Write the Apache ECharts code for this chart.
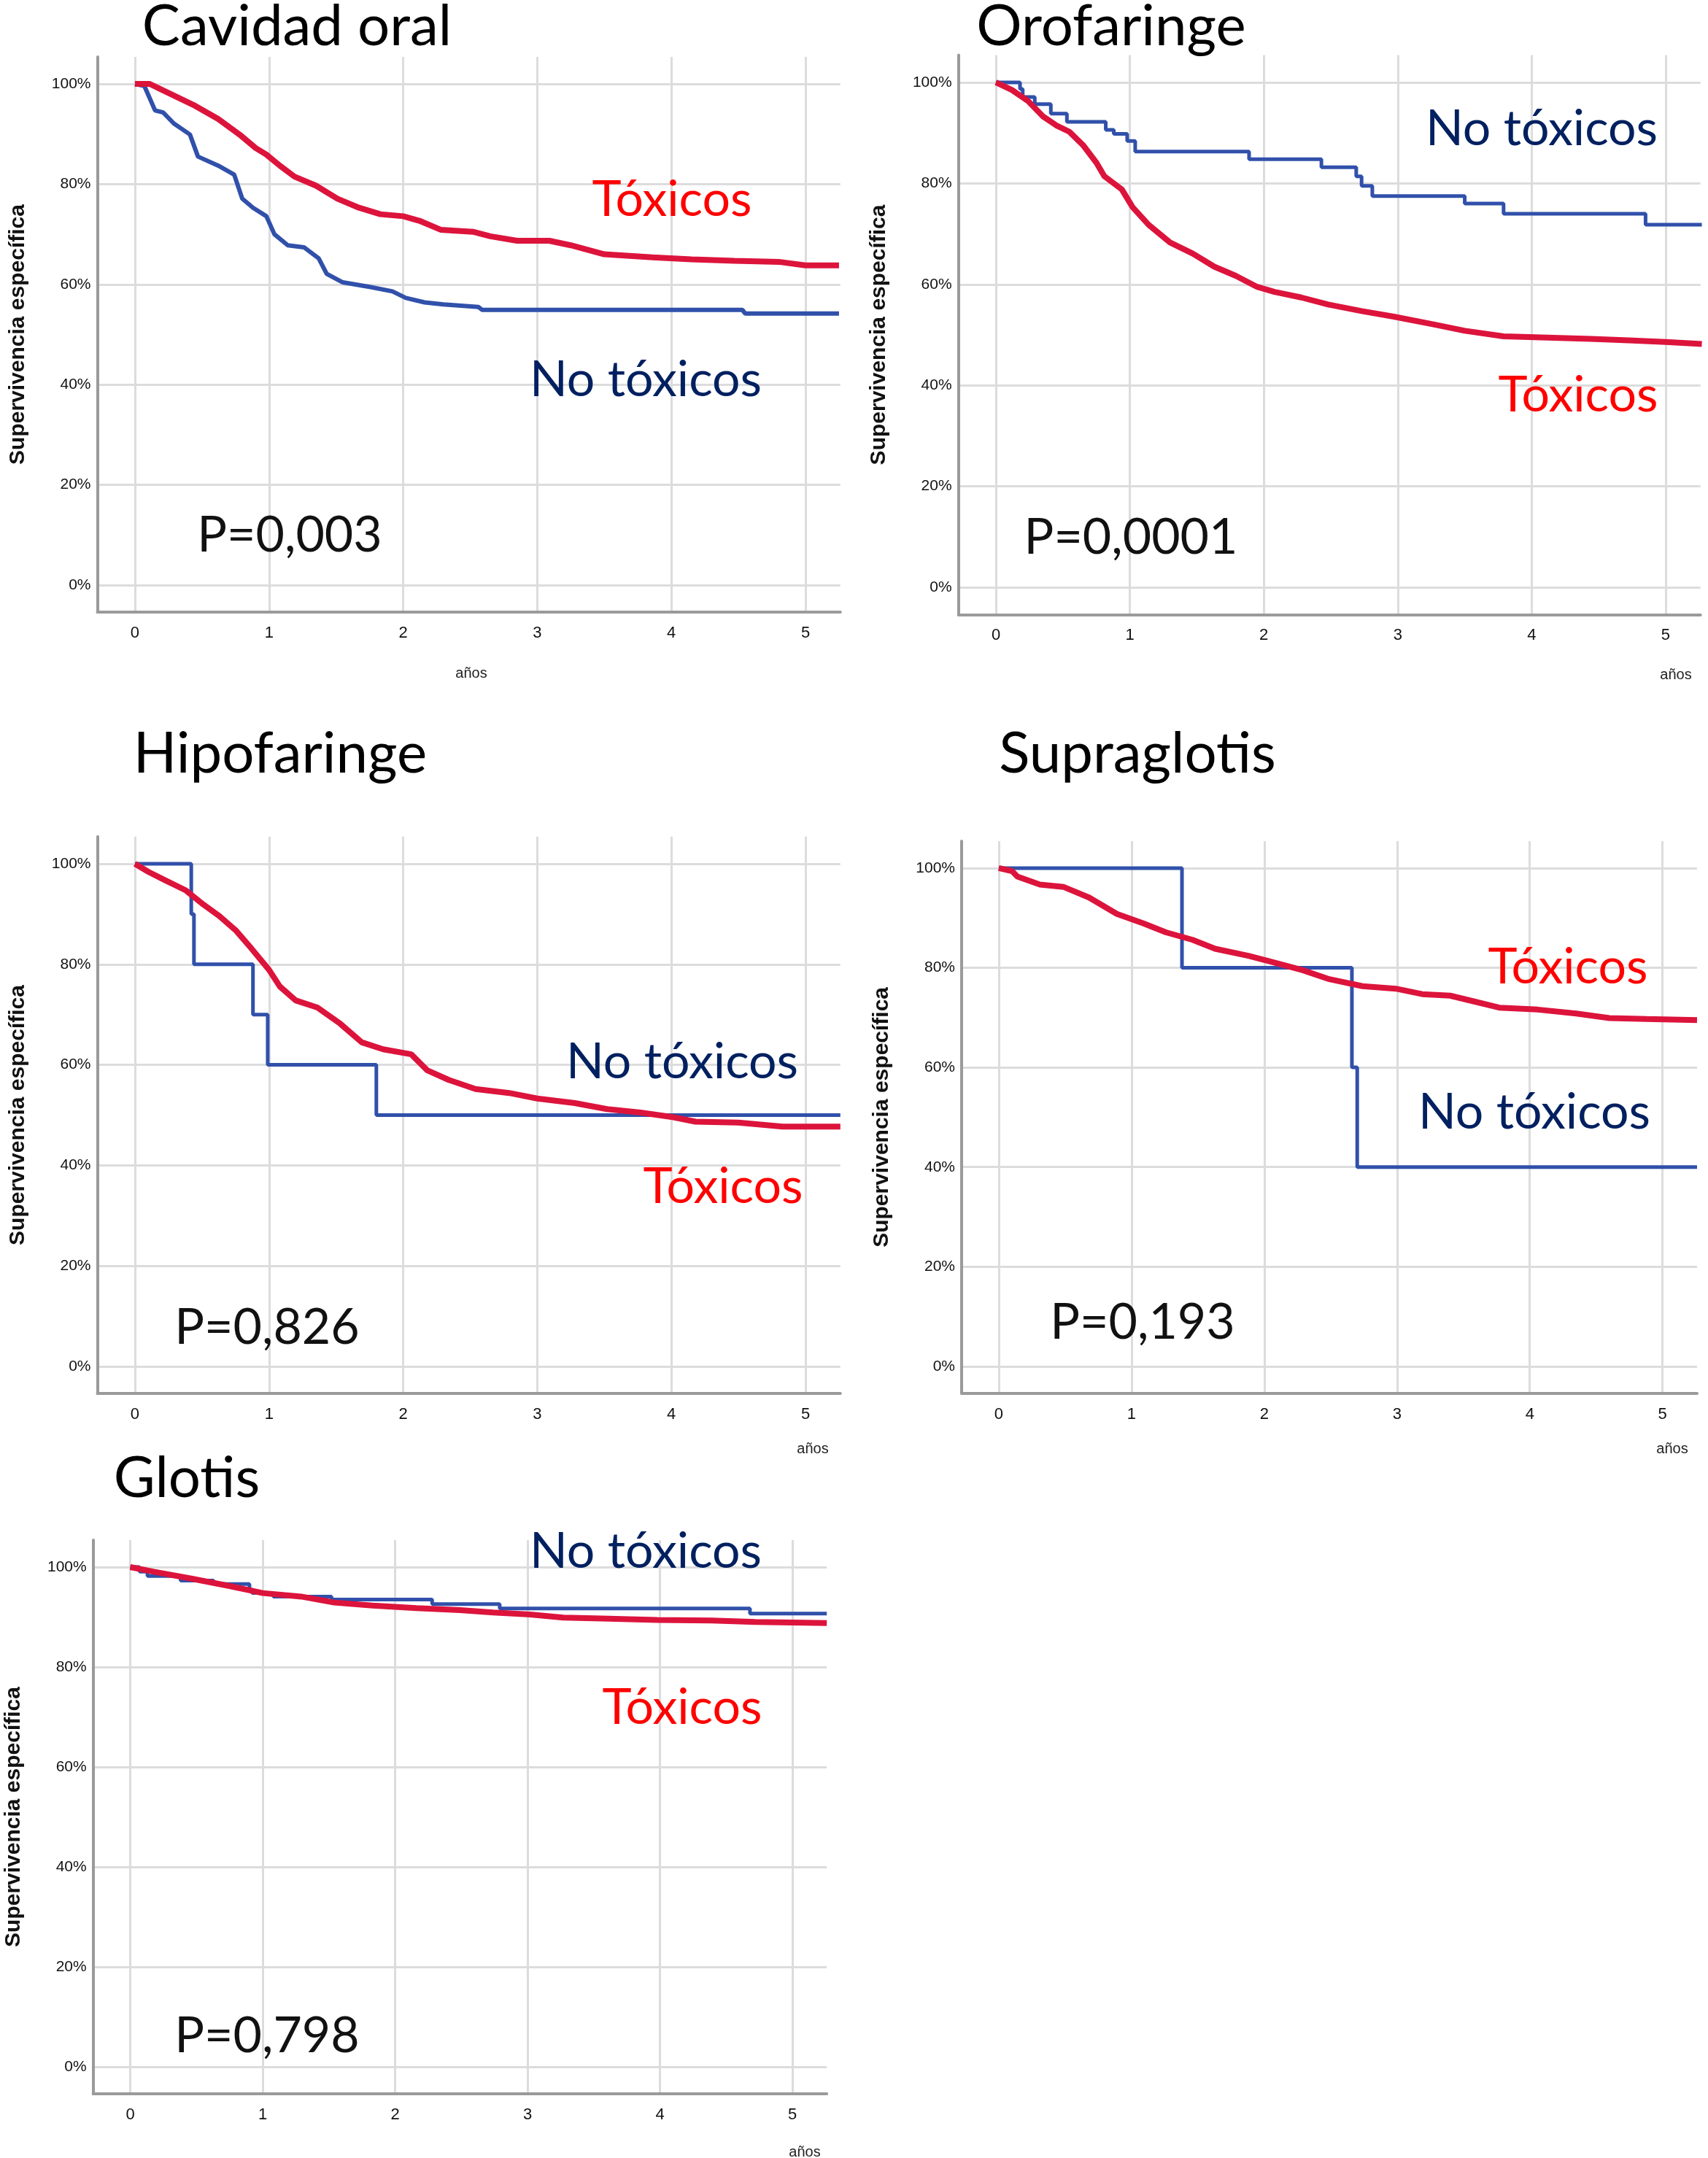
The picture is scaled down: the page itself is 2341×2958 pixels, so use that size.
<!DOCTYPE html>
<html><head><meta charset="utf-8">
<script src="https://cdn.jsdelivr.net/npm/echarts@6/dist/echarts.min.js"></script>
<style>html,body{margin:0;padding:0;background:#fff}#c{width:2341px;height:2958px}</style>
</head><body><div id="c"></div>
<script>
// ---------- DATA ----------
const xTicks = [0, 1, 2, 3, 4, 5];
const yTicks = [0, 20, 40, 60, 80, 100];
const panelTitles = ['Cavidad oral', 'Orofaringe', 'Hipofaringe', 'Supraglotis', 'Glotis'];
const pValues = ['P=0,003', 'P=0,0001', 'P=0,826', 'P=0,193', 'P=0,798'];
const labelToxicos = 'Tóxicos';
const labelNoToxicos = 'No tóxicos';
const yAxisTitle = 'Supervivencia específica';
const xAxisTitle = 'años';

// [years, % survival]
const cavidadToxicos = [[0,100],[0.11,100],[0.21,98.7],[0.45,95.6],[0.62,93],[0.78,89.9],[0.9,87.2],[0.98,85.9],[1.08,83.7],[1.19,81.5],[1.35,79.7],[1.51,77.1],[1.67,75.3],[1.83,74.0],[2.0,73.6],[2.12,72.7],[2.28,70.9],[2.52,70.5],[2.65,69.6],[2.85,68.7],[3.09,68.7],[3.25,67.8],[3.5,66.0],[3.86,65.4],[4.15,65.0],[4.47,64.7],[4.8,64.5],[5.0,63.8],[5.25,63.8]];
const cavidadNoToxicos = [[0,100],[0.07,99.6],[0.15,94.7],[0.21,94.3],[0.29,92.1],[0.41,89.9],[0.47,85.5],[0.62,83.7],[0.74,81.9],[0.8,77.1],[0.88,75.3],[0.98,73.6],[1.04,70.0],[1.14,67.8],[1.26,67.4],[1.37,65.2],[1.43,62.1],[1.55,60.4],[1.75,59.5],[1.92,58.6],[2.02,57.3],[2.16,56.4],[2.3,56.0],[2.56,55.5],[2.59,54.9],[4.53,54.9],[4.55,54.2],[5.25,54.2]];

const orofaringeToxicos = [[0,100],[0.12,98.5],[0.24,96.3],[0.35,93.3],[0.45,91.5],[0.55,90.2],[0.65,87.6],[0.75,84.1],[0.81,81.4],[0.94,78.8],[1.02,75.3],[1.14,71.8],[1.3,68.3],[1.47,66.1],[1.63,63.5],[1.79,61.7],[1.95,59.5],[2.08,58.5],[2.28,57.4],[2.48,56.0],[2.73,54.7],[2.97,53.6],[3.26,52.1],[3.5,50.8],[3.79,49.7],[4.07,49.5],[4.44,49.2],[4.72,48.9],[5.0,48.6],[5.27,48.2]];
const orofaringeNoToxicos = [[0,100],[0.18,98.7],[0.2,97.1],[0.29,95.7],[0.41,93.8],[0.53,92.2],[0.82,90.6],[0.88,89.8],[0.98,88.4],[1.04,86.3],[1.89,84.8],[2.43,83.2],[2.69,81.4],[2.73,79.5],[2.81,77.5],[3.5,76.0],[3.79,74.0],[4.85,71.8],[5.27,71.8]];

const hipofaringeToxicos = [[0,100],[0.1,98.4],[0.22,96.8],[0.38,94.7],[0.51,91.9],[0.63,89.6],[0.75,86.8],[0.87,83.1],[1.0,78.9],[1.08,75.6],[1.2,72.8],[1.36,71.4],[1.53,68.2],[1.69,64.5],[1.85,63.1],[2.06,62.1],[2.18,58.9],[2.34,57.0],[2.54,55.2],[2.79,54.4],[3.0,53.3],[3.28,52.4],[3.52,51.2],[3.77,50.5],[4.01,49.6],[4.18,48.7],[4.5,48.5],[4.83,47.7],[5.26,47.7]];
const hipofaringeNoToxicos = [[0,100],[0.42,90],[0.44,80],[0.88,70],[0.99,60],[1.8,50],[5.26,50]];

const supraglotisToxicos = [[0,100],[0.1,99.4],[0.14,98.3],[0.31,96.7],[0.49,96.2],[0.68,94.1],[0.89,90.8],[1.09,88.9],[1.26,87.1],[1.46,85.6],[1.63,83.8],[1.88,82.4],[2.08,81.0],[2.29,79.5],[2.49,77.7],[2.74,76.3],[2.99,75.8],[3.19,74.7],[3.4,74.4],[3.57,73.3],[3.77,72.0],[4.06,71.6],[4.35,70.8],[4.6,69.9],[4.88,69.7],[5.26,69.5]];
const supraglotisNoToxicos = [[0,100],[1.38,80],[2.66,60],[2.7,40],[5.26,40]];

const glotisToxicos = [[0,100],[0.17,99.1],[0.46,97.7],[0.75,96.2],[1.0,94.8],[1.29,94.1],[1.54,92.9],[1.83,92.3],[2.16,91.8],[2.49,91.4],[2.74,90.9],[3.02,90.5],[3.27,89.9],[3.56,89.7],[3.98,89.4],[4.39,89.3],[4.72,89.0],[5.26,88.8]];
const glotisNoToxicos = [[0,100],[0.07,99.1],[0.13,98.2],[0.38,97.3],[0.63,96.6],[0.9,95.5],[0.92,94.8],[1.08,94.1],[1.52,93.5],[2.28,92.6],[2.79,91.7],[4.68,90.7],[5.26,90.7]];

const toxicosSeries = [cavidadToxicos, orofaringeToxicos, hipofaringeToxicos, supraglotisToxicos, glotisToxicos];
const noToxicosSeries = [cavidadNoToxicos, orofaringeNoToxicos, hipofaringeNoToxicos, supraglotisNoToxicos, glotisNoToxicos];

// ---------- LAYOUT ----------
const grids = [
  {left:133.5, top:77.9, width:1018.3, height:761.2},
  {left:1313.6, top:75.6, width:1017.1, height:766.7},
  {left:133.5, top:1146.8, width:1018.3, height:763.4},
  {left:1318, top:1153, width:1008, height:756.8},
  {left:127.7, top:2111, width:1005.5, height:759}
];
const titlePos = [[407,37],[1523,37],[384,1034],[1559,1034],[256,2027]];
const toxPos = [[921,274],[2163,542],[991,1627],[2149,1326],[935,2341]];
const noToxPos = [[885,521],[2113,177],[935,1456],[2103,1525],[885,2127]];
const pPos = [[397,734],[1550,737],[366,1820],[1566,1813],[366,2791]];
const anosPos = [[646,923],[2297,925],[1114,1986],[2292,1986],[1103,2950]];

const RED = '#DC143C', BLUE = '#3050AA';
const X_MIN = -0.28, X_MAX = 5.26, Y_MIN = -5.4, Y_MAX = 105.4;

const chart = echarts.init(document.getElementById('c'), null, {renderer:'canvas'});
const xAxes = [], yAxes = [], series = [], graphic = [];
grids.forEach((g, i) => {
  xAxes.push({
    type:'value', gridIndex:i, min:X_MIN, max:X_MAX,
    axisLine:{show:true, onZero:false, lineStyle:{color:'#9a9a9a', width:4}},
    axisTick:{show:false, customValues:xTicks},
    splitLine:{show:false},
    axisLabel:{customValues:xTicks, margin:18, fontSize:22, color:'#111', fontFamily:'Liberation Sans'}
  });
  yAxes.push({
    type:'value', gridIndex:i, min:Y_MIN, max:Y_MAX,
    name:yAxisTitle, nameLocation:'middle', nameRotate:90, nameGap:94,
    nameTextStyle:{fontSize:30, fontWeight:'bold', color:'#111', fontFamily:'Liberation Sans'},
    axisLine:{show:true, onZero:false, lineStyle:{color:'#9a9a9a', width:4}},
    axisTick:{show:false, customValues:yTicks},
    splitLine:{show:false},
    axisLabel:{customValues:yTicks, formatter:'{value}%', margin:9, fontSize:21, color:'#111', fontFamily:'Liberation Sans'}
  });
  series.push({
    type:'line', xAxisIndex:i, yAxisIndex:i, data:[], silent:true, z:0,
    markLine:{silent:true, z:0, symbol:['none','none'], animation:false,
      label:{show:false},
      emphasis:{disabled:true},
      lineStyle:{color:'#dcdcdc', width:3, type:'solid'},
      data: yTicks.map(v => ({yAxis:v})).concat(xTicks.map(v => ({xAxis:v})))}
  });
  series.push({
    type:'line', xAxisIndex:i, yAxisIndex:i, data:noToxicosSeries[i],
    step: i === 0 ? false : 'end', showSymbol:false, z:3,
    lineStyle:{color:BLUE, width: i === 0 ? 6 : 5}
  });
  series.push({
    type:'line', xAxisIndex:i, yAxisIndex:i, data:toxicosSeries[i],
    showSymbol:false, z:4,
    lineStyle:{color:RED, width:8}
  });
  const txt = (t, p, size, color, fam) => ({type:'text', x:p[0], y:p[1], z:10,
    style:{text:t, fontSize:size, fontFamily:fam || 'Lato', fill:color, align:'center', verticalAlign:'middle'}});
  graphic.push(txt(panelTitles[i], titlePos[i], 78, '#000'));
  graphic.push(txt(labelToxicos, toxPos[i], 68, '#FF0000'));
  graphic.push(txt(labelNoToxicos, noToxPos[i], 68, '#002060'));
  graphic.push(txt(pValues[i], pPos[i], 68, '#111'));
  graphic.push(txt(xAxisTitle, anosPos[i], 20, '#222', 'Liberation Sans'));
});

chart.setOption({
  animation:false,
  backgroundColor:'#fff',
  grid: grids,
  xAxis: xAxes,
  yAxis: yAxes,
  series: series,
  graphic: graphic
});
</script>
</body></html>
